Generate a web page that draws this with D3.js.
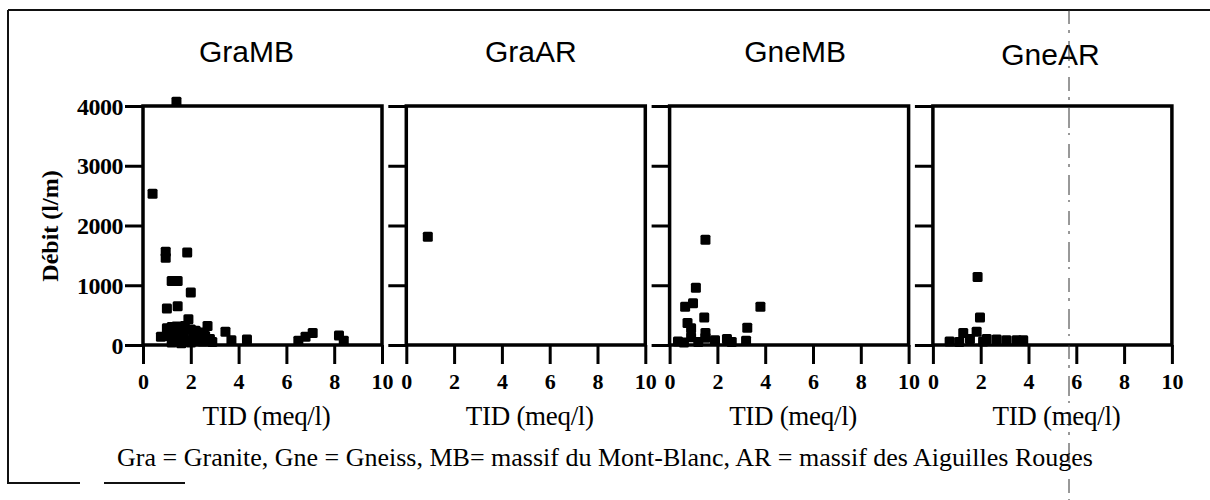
<!DOCTYPE html>
<html>
<head>
<meta charset="utf-8">
<script src="https://cdn.jsdelivr.net/npm/d3@7"></script>
<style>
  html, body { margin: 0; padding: 0; background: #fff; }
  svg { display: block; }
</style>
</head>
<body>
<svg id="chart" width="1210" height="500"></svg>
<script>
// Panel titles (rock type + massif)
const panels = ["GraMB", "GraAR", "GneMB", "GneAR"];

// Measured points: [TID (meq/l), Débit (l/m)]
const graMB = [
  [1.4, 4070], [0.4, 2530], [0.95, 1560], [0.95, 1460], [1.85, 1550],
  [1.2, 1070], [1.45, 1070], [2.0, 880], [1.0, 610], [1.45, 650], [1.9, 430],
  [0.75, 140], [1.0, 280], [1.2, 300], [1.4, 310], [1.6, 250], [1.75, 320],
  [2.0, 260], [2.2, 240], [2.4, 210], [2.7, 320], [2.6, 150], [1.1, 150],
  [1.3, 100], [1.5, 180], [1.7, 120], [1.9, 80], [2.1, 150], [2.3, 90],
  [2.5, 60], [2.8, 100], [2.9, 50], [1.2, 40], [1.6, 30], [2.0, 40],
  [3.45, 220], [3.7, 80], [4.35, 90], [6.5, 70], [6.8, 140], [7.1, 200],
  [8.2, 160], [8.4, 70]
];
const graAR = [
  [0.9, 1810]
];
const gneMB = [
  [1.5, 1760], [1.1, 960], [0.65, 640], [0.98, 700], [3.8, 640], [1.45, 460],
  [0.75, 370], [3.25, 290], [0.9, 280], [0.35, 60], [0.9, 130], [1.5, 200],
  [1.5, 120], [1.9, 80], [2.4, 100], [2.6, 50], [3.2, 70], [0.6, 40], [1.2, 50]
];
const gneAR = [
  [1.87, 1140], [1.97, 460], [0.7, 60], [1.27, 200], [1.83, 220], [1.55, 100],
  [2.25, 100], [2.67, 90], [3.08, 80], [3.5, 80], [3.78, 80], [2.1, 60], [1.1, 50]
];
const series = [graMB, graAR, gneMB, gneAR];

// Axis ticks
const xTicks = [0, 2, 4, 6, 8, 10];
const yTicks = [0, 1000, 2000, 3000, 4000];

// Texts
const xTitle = "TID (meq/l)";
const yTitle = "Débit (l/m)";
const caption = "Gra = Granite,  Gne = Gneiss,  MB= massif du Mont-Blanc, AR = massif des Aiguilles Rouges";

// Layout
const W = 1210, H = 500;
const panelW = 239, panelTop = 106, panelBottom = 345;
const firstLeft = 143, panelStep = 263.3;
const titleDx = [-16, 5, 6, -2];
const titleDy = [0, 0, 0, 3];
const serif = "'Liberation Serif', 'Times New Roman', serif";
const sans = "'Liberation Sans', Arial, Helvetica, sans-serif";

const svg = d3.select("#chart");

// Outer frame (top and left edges, broken bottom)
const frame = svg.append("g").attr("stroke", "#111").attr("stroke-width", 2).attr("fill", "none");
frame.append("line").attr("x1", 8).attr("y1", 10).attr("x2", W).attr("y2", 10);
frame.append("line").attr("x1", 8).attr("y1", 10).attr("x2", 8).attr("y2", 484);
frame.append("line").attr("x1", 8).attr("y1", 483).attr("x2", 80).attr("y2", 483);
frame.append("line").attr("x1", 104).attr("y1", 483).attr("x2", 185).attr("y2", 483);

const y = d3.scaleLinear().domain([0, 4000]).range([panelBottom, panelTop]);

panels.forEach((name, i) => {
  const left = firstLeft + i * panelStep;
  const x = d3.scaleLinear().domain([0, 10]).range([left, left + panelW]);
  const g = svg.append("g");

  // Y axis ticks (outward), labels on the first panel only
  const yAxis = d3.axisLeft(y).tickValues(yTicks).tickSize(18).tickSizeOuter(0).tickPadding(2)
    .tickFormat(i === 0 ? d3.format("d") : () => "");
  const ya = g.append("g").attr("transform", `translate(${left},0)`).call(yAxis);
  ya.select(".domain").remove();
  ya.selectAll("line").attr("stroke", "#000").attr("stroke-width", 3);
  ya.selectAll("text")
    .attr("font-family", serif).attr("font-size", 24).attr("font-weight", "bold")
    .attr("letter-spacing", -0.5)
    .attr("fill", "#000").attr("dy", "0.34em");

  // X axis ticks (downward) with labels
  const xAxis = d3.axisBottom(x).tickValues(xTicks).tickSize(19).tickSizeOuter(0).tickFormat(d3.format("d"));
  const xa = g.append("g").attr("transform", `translate(0,${panelBottom})`).call(xAxis);
  xa.select(".domain").remove();
  xa.selectAll("line").attr("stroke", "#000").attr("stroke-width", 3);
  xa.selectAll("text")
    .attr("font-family", serif).attr("font-size", 22).attr("font-weight", "bold")
    .attr("fill", "#000").attr("y", 44).attr("dy", 0);

  // Panel frame
  g.append("rect")
    .attr("x", x(0)).attr("y", y(4000))
    .attr("width", x(10) - x(0)).attr("height", y(0) - y(4000))
    .attr("fill", "none").attr("stroke", "#000").attr("stroke-width", 3.5);

  // Points
  g.append("g").selectAll("rect.pt")
    .data(series[i])
    .join("rect")
    .attr("class", "pt")
    .attr("x", d => x(d[0]) - 5)
    .attr("y", d => y(d[1]) - 5)
    .attr("width", 10).attr("height", 10)
    .attr("rx", 1.5)
    .attr("fill", "#000");

  // Panel title
  g.append("text")
    .attr("x", (x(0) + x(10)) / 2 + titleDx[i]).attr("y", 62 + titleDy[i])
    .attr("text-anchor", "middle")
    .attr("font-family", sans).attr("font-size", 30)
    .attr("fill", "#000").text(name);

  // X axis title
  g.append("text")
    .attr("x", (x(0) + x(10)) / 2 + 4).attr("y", 425)
    .attr("text-anchor", "middle")
    .attr("font-family", serif).attr("font-size", 27)
    .attr("letter-spacing", -0.3)
    .attr("fill", "#000").text(xTitle);
});

// Y axis title
svg.append("text")
  .attr("transform", "translate(58,226) rotate(-90)")
  .attr("text-anchor", "middle")
  .attr("font-family", serif).attr("font-size", 24).attr("font-weight", "bold")
  .attr("fill", "#000").text(yTitle);

// Caption
svg.append("text")
  .attr("x", 605).attr("y", 466)
  .attr("text-anchor", "middle")
  .attr("font-family", serif).attr("font-size", 26)
  .attr("fill", "#000").text(caption);

// Thin dashed fold line across the sheet
svg.append("line")
  .attr("x1", 1069).attr("y1", 10).attr("x2", 1069).attr("y2", H)
  .attr("stroke", "#333").attr("stroke-width", 1)
  .attr("stroke-dasharray", "14 6 3 8 20 5 2 9");
</script>
</body>
</html>
